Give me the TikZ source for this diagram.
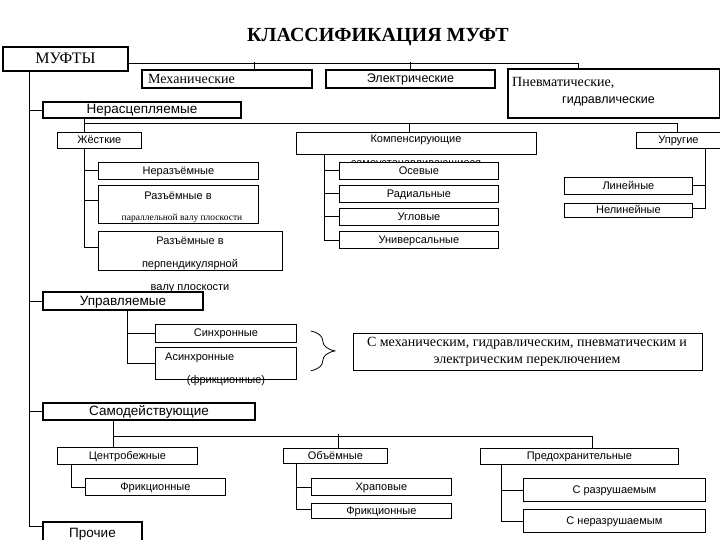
\documentclass[tikz,border=0pt]{standalone}
\usepackage{fontspec}
\setmainfont{Liberation Sans}
\newfontfamily\serifru{Liberation Serif}
\usepackage{tikz}
\usetikzlibrary{positioning, calc, decorations.pathreplacing}
\tikzset{
    box/.style={rectangle, draw, fill=white, line width=0.8pt, inner sep=0pt, anchor=north west, text height=7pt, text depth=0.5pt, font=\fontsize{11}{12}\selectfont},
    mainbox/.style={box, line width=2pt, text height=8.5pt, text depth=0.5pt, font=\fontsize{13.5}{15}\selectfont},
    wire/.style={draw, line width=0.8pt},
    txt/.style={inner sep=0pt, font=\fontsize{11}{12}\selectfont},
    serif/.style={font=\serifru\fontsize{14}{16}\selectfont}
}

\begin{document}
\begin{tikzpicture}[x=1pt, y=-1pt]
    \clip (0,0) rectangle (720,540);
    \fill[white] (0,0) rectangle (720,540);

    % Title
    \node[font=\serifru\bfseries\fontsize{20}{23}\selectfont] (title) at (378,37) {КЛАССИФИКАЦИЯ МУФТ};

    % Top level
    \node[mainbox, minimum width=125pt, minimum height=24pt, text height=10pt, font=\serifru\fontsize{16}{18}\selectfont] (mufty) at (2,46) {МУФТЫ};
    \node[mainbox, minimum width=170pt, minimum height=18pt] (mech) at (141,69) {};
    \node[txt, serif, anchor=west] at (148,79) {Механические};
    \node[mainbox, minimum width=169pt, minimum height=18pt, font=\fontsize{12.5}{14}\selectfont] (elec) at (325,69) {Электрические};
    \node[mainbox, minimum width=212pt, minimum height=49pt] (pnevm) at (507,68) {};
    \node[txt, serif, anchor=west] at (512,83) {Пневматические,};
    \node[txt, anchor=west, font=\fontsize{12.5}{14}\selectfont] at (562,101) {гидравлические};

    % Non-disengaging
    \node[mainbox, minimum width=198pt, minimum height=16pt] (nerasc) at (42,101) {Нерасцепляемые};
    \node[box, minimum width=84pt, minimum height=16pt] (zhest) at (57,132) {Жёсткие};
    \node[box, minimum width=160pt, minimum height=17pt] (nerazem) at (98,162) {Неразъёмные};
    \node[box, minimum width=160pt, minimum height=38pt] (razpar) at (98,185) {};
    \node[txt] at (178,196) {Разъёмные в};
    \node[txt, font=\serifru\fontsize{9.5}{11}\selectfont] at (182,218) {параллельной валу плоскости};
    \node[box, minimum width=184pt, minimum height=39pt] (perp) at (98,231) {};
    \node[txt, align=center, anchor=north, font=\fontsize{11}{23}\selectfont] at (190,237) {Разъёмные в\\перпендикулярной\\валу плоскости};

    \node[box, minimum width=240pt, minimum height=22pt] (komp) at (296,132) {};
    \node[txt] at (416,140) {Компенсирующие};
    \node[txt, anchor=base] at (416,167) {самоустанавливающиеся};
    \node[box, minimum width=159pt, minimum height=17pt] (oseve) at (339,162) {Осевые};
    \node[box, minimum width=159pt, minimum height=17pt] (radial) at (339,185) {Радиальные};
    \node[box, minimum width=159pt, minimum height=17pt] (uglov) at (339,208) {Угловые};
    \node[box, minimum width=159pt, minimum height=17pt] (univ) at (339,231) {Универсальные};

    \node[box, minimum width=84pt, minimum height=16pt] (uprug) at (636,132) {Упругие};
    \node[box, minimum width=128pt, minimum height=17pt] (lin) at (564,177) {Линейные};
    \node[box, minimum width=128pt, minimum height=14pt] (nelin) at (564,203) {Нелинейные};

    % Controlled
    \node[mainbox, minimum width=160pt, minimum height=18pt] (upravl) at (42,291) {Управляемые};
    \node[box, minimum width=141pt, minimum height=18pt] (sinh) at (155,324) {Синхронные};
    \node[box, minimum width=141pt, minimum height=32pt] (asinh) at (155,347) {};
    \node[txt, anchor=west] at (165,358) {Асинхронные};
    \node[txt] at (226,381) {(фрикционные)};
    \node[box, minimum width=349pt, minimum height=37pt] (perekl) at (353,333) {};
    \node[txt, align=center, font=\serifru\fontsize{14}{17}\selectfont] at (527,352) {С механическим, гидравлическим, пневматическим и\\электрическим переключением};

    % Self-acting
    \node[mainbox, minimum width=212pt, minimum height=17pt] (samod) at (42,402) {Самодействующие};
    \node[box, minimum width=140pt, minimum height=17pt] (centrob) at (57,447) {Центробежные};
    \node[box, minimum width=140pt, minimum height=17pt] (frik1) at (85,478) {Фрикционные};
    \node[box, minimum width=104pt, minimum height=15pt] (objem) at (283,448) {Объёмные};
    \node[box, minimum width=140pt, minimum height=17pt] (hrap) at (311,478) {Храповые};
    \node[box, minimum width=140pt, minimum height=15pt] (frik2) at (311,503) {Фрикционные};
    \node[box, minimum width=198pt, minimum height=16pt] (predokhr) at (480,448) {Предохранительные};
    \node[box, minimum width=182pt, minimum height=23pt] (srazr) at (523,478) {С разрушаемым};
    \node[box, minimum width=182pt, minimum height=23pt] (snerazr) at (523,509) {С неразрушаемым};

    \node[mainbox, minimum width=99pt, minimum height=23pt] (procie) at (42,521) {Прочие};

    % Connectors
    \draw[wire] ([yshift=-4pt]mufty.east) -| ([xshift=71pt]pnevm.north west);
    \draw[wire] ([xshift=113pt]mech.north west) -- ++(0,-7);
    \draw[wire] (elec.north) -- ++(0,-7);

    \draw[wire] ([xshift=27pt]mufty.south west) |- (nerasc.west);
    \draw[wire] ([xshift=27pt]mufty.south west) |- (upravl.west);
    \draw[wire] ([xshift=27pt]mufty.south west) |- (samod.west);
    \draw[wire] ([xshift=27pt]mufty.south west) |- ([yshift=7pt]procie.west);

    \draw[wire] ([xshift=42pt]nerasc.south west) -- ([xshift=27pt]zhest.north west);
    \draw[wire] ([xshift=27pt]zhest.north west) ++(0,-9) -| ([xshift=41pt]uprug.north west);
    \draw[wire] ([xshift=113pt]komp.north west) -- ++(0,-9);

    \draw[wire] ([xshift=27pt]zhest.south west) |- (nerazem.west);
    \draw[wire] ([xshift=27pt]zhest.south west) |- ([yshift=4pt]razpar.west);
    \draw[wire] ([xshift=27pt]zhest.south west) |- ([yshift=4pt]perp.west);

    \draw[wire] ([xshift=28pt]komp.south west) |- (oseve.west);
    \draw[wire] ([xshift=28pt]komp.south west) |- (radial.west);
    \draw[wire] ([xshift=28pt]komp.south west) |- (uglov.west);
    \draw[wire] ([xshift=28pt]komp.south west) |- (univ.west);

    \draw[wire] ([xshift=69pt]uprug.south west) |- (lin.east);
    \draw[wire] ([xshift=69pt]uprug.south west) |- ([yshift=2pt]nelin.east);

    \draw[wire] ([xshift=85pt]upravl.south west) |- (sinh.west);
    \draw[wire] ([xshift=85pt]upravl.south west) |- (asinh.west);
    \draw[wire, decorate, decoration={brace, amplitude=24pt}] ([xshift=14pt,yshift=-7pt]sinh.north east) -- ([xshift=14pt,yshift=9pt]asinh.south east);

    \draw[wire] ([xshift=71pt]samod.south west) -- ([xshift=56pt]centrob.north west);
    \draw[wire] ([xshift=71pt]samod.south west) ++(0,15) -| ([xshift=112pt]predokhr.north west);
    \draw[wire] ([xshift=55pt]objem.north west) -- ++(0,-14);

    \draw[wire] ([xshift=14pt]centrob.south west) |- (frik1.west);
    \draw[wire] ([xshift=13pt]objem.south west) |- (hrap.west);
    \draw[wire] ([xshift=13pt]objem.south west) |- ([yshift=2pt]frik2.west);
    \draw[wire] ([xshift=21pt]predokhr.south west) |- (srazr.west);
    \draw[wire] ([xshift=21pt]predokhr.south west) |- (snerazr.west);

\end{tikzpicture}
\end{document}
